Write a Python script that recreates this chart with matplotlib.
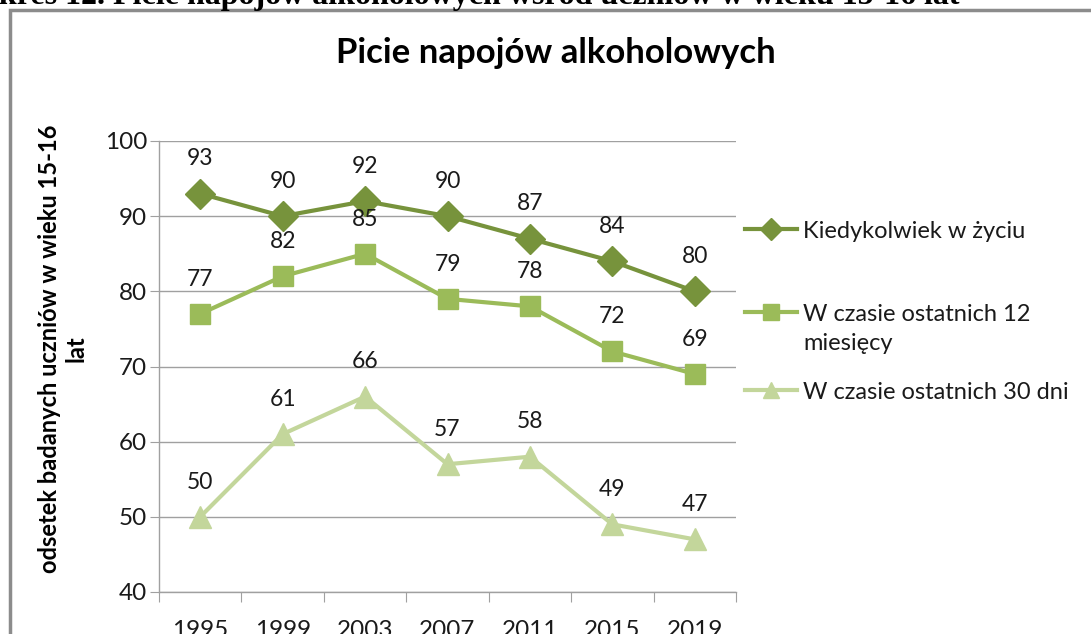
import matplotlib
matplotlib.use("Agg")
import matplotlib.pyplot as plt
from matplotlib.lines import Line2D
from matplotlib.patches import Rectangle

years = ["1995", "1999", "2003", "2007", "2011", "2015", "2019"]
ever = [93, 90, 92, 90, 87, 84, 80]
last12 = [77, 82, 85, 79, 78, 72, 69]
last30 = [50, 61, 66, 57, 58, 49, 47]
series_labels = ["Kiedykolwiek w życiu", "W czasie ostatnich 12\nmiesięcy", "W czasie ostatnich 30 dni"]
title = "Picie napojów alkoholowych"
ylabel = "odsetek badanych uczniów w wieku 15-16\nlat"
header = "Wykres 12. Picie napojów alkoholowych wśród uczniów w wieku 15-16 lat"

colors = ["#77933C", "#9BBB59", "#C3D69B"]
markers = ["D", "s", "^"]
msizes = [15, 15, 16]

plt.rcParams["font.family"] = ["Lato", "DejaVu Sans"]
W, H = 1091, 634
fig = plt.figure(figsize=(W / 100, H / 100), dpi=100)

def fx(px):
    return px / W

def fy(py):
    return 1 - py / H

ax = fig.add_axes([fx(159), fy(592), fx(736) - fx(159), fy(141) - fy(592)])

x = list(range(len(years)))
for vals, c, m, ms in zip([ever, last12, last30], colors, markers, msizes):
    ax.plot(x, vals, color=c, lw=3, marker=m, markersize=ms, markeredgecolor=c, zorder=3, clip_on=False)
    for xi, v in zip(x, vals):
        ax.annotate(str(v), (xi, v), xytext=(0, 25), textcoords="offset points",
                    ha="center", va="center", fontsize=16.5, color="#1a1a1a")

ax.set_xlim(-0.5, len(years) - 0.5)
ax.set_ylim(40, 100)
ax.set_yticks(range(40, 101, 10))
ax.set_xticks([i - 0.5 for i in range(len(years) + 1)])
ax.set_xticklabels([])
ax.set_xticks(x, minor=True)
ax.set_xticklabels(years, minor=True)
ax.tick_params(axis="x", which="minor", length=0, pad=20, labelsize=17.5, labelcolor="#1a1a1a")
ax.tick_params(axis="x", which="major", length=7, color="#a0a0a0", direction="out")
ax.tick_params(axis="y", length=6.5, color="#a0a0a0", labelsize=17.5, labelcolor="#1a1a1a", pad=2)
ax.grid(axis="y", color="#a0a0a0", lw=1)
ax.set_axisbelow(True)
for s in ["top", "right"]:
    ax.spines[s].set_visible(False)
for s in ["left", "bottom"]:
    ax.spines[s].set_color("#a0a0a0")
    ax.spines[s].set_linewidth(1)

# outer chart frame
fig.add_artist(Rectangle((fx(10), fy(700)), fx(1200), fy(10) - fy(700), transform=fig.transFigure,
                         fill=False, edgecolor="#8c8c8c", lw=2.5))

fig.text(fx(556), fy(53), title, ha="center", va="center", fontsize=25, fontweight="bold", color="#000000")
fig.text(fx(63), fy(349), ylabel, ha="center", va="center", rotation=90, fontsize=17,
         fontweight="bold", linespacing=1.2, color="#000000")
fig.text(fx(960), fy(4), header, ha="right", va="baseline", fontsize=23, fontweight="bold",
         family=["Liberation Serif", "DejaVu Serif"], color="#000000")

# legend
leg_y = [229, 312, 390]
for lab, c, m, ms, yy in zip(series_labels, colors, markers, msizes, leg_y):
    fig.add_artist(Line2D([fx(745), fx(797)], [fy(yy), fy(yy)], color=c, lw=3, transform=fig.transFigure))
    fig.add_artist(Line2D([fx(771)], [fy(yy)], color=c, marker=m, markersize=ms * 0.75,
                          markeredgecolor=c, transform=fig.transFigure))
    fig.text(fx(803), fy(yy - 8), lab, ha="left", va="top", fontsize=17, linespacing=1.45, color="#1a1a1a")

fig.savefig("out.png", dpi=100)
